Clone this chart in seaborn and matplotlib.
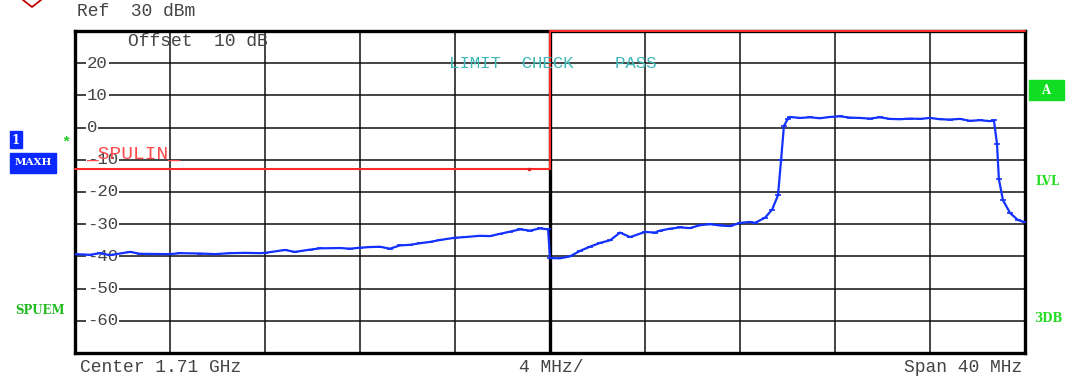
import matplotlib
matplotlib.use("Agg")
import matplotlib.pyplot as plt
import seaborn as sns
import pandas as pd
from matplotlib.lines import Line2D
from matplotlib.patches import Rectangle

# ---- data ----
freq_mhz = [1690.00, 1690.63, 1691.05, 1691.47, 1692.32, 1692.74, 1694.00, 1694.42,
            1695.26, 1695.89, 1696.53, 1697.16, 1697.79, 1698.00, 1698.84, 1699.26,
            1699.89, 1700.32, 1701.16, 1701.58, 1702.00, 1702.42, 1702.84, 1703.26,
            1703.68, 1704.11, 1704.53, 1704.95, 1705.37, 1706.00, 1706.42, 1707.05,
            1707.47, 1707.89, 1708.32, 1708.74, 1709.16, 1709.58, 1709.92, 1710.00,
            1710.42, 1710.84, 1711.26, 1711.68, 1712.11, 1712.53, 1712.95, 1713.37,
            1714.00, 1714.42, 1714.63, 1715.05, 1715.47, 1715.89, 1716.32, 1716.74,
            1717.16, 1717.58, 1718.00, 1718.42, 1718.63, 1719.05, 1719.35, 1719.60,
            1719.73, 1719.85, 1720.02, 1720.11, 1720.53, 1720.95, 1721.37, 1721.79,
            1722.21, 1722.63, 1723.05, 1723.47, 1723.89, 1724.32, 1724.74, 1725.16,
            1725.58, 1726.00, 1726.42, 1726.84, 1727.26, 1727.68, 1728.11, 1728.53,
            1728.69, 1728.82, 1728.90, 1729.07, 1729.37, 1729.70, 1730.00]
level_dbm = [-39.3, -39.5, -39.0, -39.6, -38.6, -39.2, -39.3, -39.0,
             -39.1, -39.3, -39.0, -38.9, -39.0, -38.9, -38.0, -38.6,
             -37.9, -37.5, -37.4, -37.6, -37.3, -37.1, -37.0, -37.6,
             -36.6, -36.4, -35.9, -35.5, -34.9, -34.2, -34.0, -33.6,
             -33.7, -33.0, -32.3, -31.6, -32.0, -31.3, -31.6, -40.5,
             -40.6, -40.0, -38.3, -37.0, -35.8, -35.0, -32.6, -34.0,
             -32.4, -32.6, -32.0, -31.4, -31.0, -31.2, -30.3, -30.0,
             -30.4, -30.6, -29.6, -29.3, -29.6, -28.0, -25.5, -21.0,
             -10.0, 0.5, 2.8, 3.3, 3.0, 3.2, 2.9, 3.3,
             3.5, 3.1, 3.0, 2.8, 3.2, 2.7, 2.6, 2.8,
             2.7, 3.0, 2.6, 2.5, 2.7, 2.1, 2.3, 2.0,
             2.3, -5.0, -16.0, -22.5, -26.5, -28.7, -29.4]

limit_freq = [1690.0, 1710.0, 1710.0, 1730.0]
limit_level = [-13.0, -13.0, 30.0, 30.0]

ytick_values = [20, 10, 0, -10, -20, -30, -40, -50, -60]
xtick_values = [1690, 1694, 1698, 1702, 1706, 1710, 1714, 1718, 1722, 1726, 1730]

center_label = "Center 1.71 GHz"
div_label = "4 MHz/"
span_label = "Span 40 MHz"
ref_label = "Ref  30 dBm"
offset_label = "Offset  10 dB"
limit_label = "LIMIT  CHECK    PASS"
limit_name = "_SPULIN_"

# ---- figure ----
sns.set_style("white")
plt.rcParams['font.family'] = ['Liberation Mono', 'DejaVu Sans Mono']

W, H = 1068, 378
fig = plt.figure(figsize=(W / 100, H / 100), dpi=100)
ax = fig.add_axes([75 / W, 1 - 353 / H, 950 / W, 322 / H])

trace_df = pd.DataFrame({"f": freq_mhz, "lvl": level_dbm})
limit_df = pd.DataFrame({"f": limit_freq, "lvl": limit_level})

ax.set_xlim(1690, 1730)
ax.set_ylim(-70, 30)
ax.set_xticks(xtick_values)
ax.set_yticks([30] + ytick_values + [-70])
ax.tick_params(left=False, bottom=False, labelleft=False, labelbottom=False)
ax.grid(True, color="#111111", linewidth=1.1, zorder=0)
ax.axvline(1710, color="black", linewidth=2.4, zorder=1)
for s in ax.spines.values():
    s.set_linewidth(2.4)
    s.set_color("black")

sns.lineplot(data=limit_df, x="f", y="lvl", ax=ax, color="#ff2a2a", linewidth=1.5,
             sort=False, estimator=None, zorder=3, clip_on=False)
ax.plot([1709.1], [-13.0], marker="s", markersize=2, color="#e02020", zorder=3)
sns.lineplot(data=trace_df, x="f", y="lvl", ax=ax, color="#1432ff", linewidth=1.6,
             sort=False, estimator=None, zorder=4, marker="_", markersize=4,
             markeredgewidth=1.2, markeredgecolor="#1432ff")
ax.set_xlabel("")
ax.set_ylabel("")

# inner y labels with white background
for v in ytick_values:
    ax.text(0.0126, v, str(v), transform=ax.get_yaxis_transform(), ha="left",
            va="center", fontsize=12.5, color="#444444", zorder=2,
            bbox=dict(facecolor="white", edgecolor="none", pad=0.8))

txt = dict(fontsize=13, color="#444444")
fig.text(77 / W, 1 - 12 / H, ref_label, ha="left", va="center", **txt)
fig.text(128 / W, 1 - 42 / H, offset_label, ha="left", va="center", **txt)
fig.text(80 / W, 1 - 368 / H, center_label, ha="left", va="center", **txt)
fig.text(551 / W, 1 - 368 / H, div_label, ha="center", va="center", **txt)
fig.text(1022 / W, 1 - 368 / H, span_label, ha="right", va="center", **txt)
fig.text(449 / W, 1 - 63 / H, limit_label, ha="left", va="center",
         fontsize=12.5, color="#40b8b8")
fig.text(86 / W, 1 - 154 / H, limit_name, ha="left", va="center",
         fontsize=14, color="#ff4a4a", zorder=5)

# side annotations
bold = dict(family="DejaVu Serif", fontweight="bold", fontsize=8.5)
fig.add_artist(Rectangle((10 / W, 1 - 148 / H), 12 / W, 17 / H, color="#0a28ff"))
fig.add_artist(Rectangle((10 / W, 1 - 173 / H), 46 / W, 20 / H, color="#0a28ff"))
fig.add_artist(Rectangle((1029 / W, 1 - 100 / H), 35 / W, 20 / H, color="#11dd22"))
fig.text(16 / W, 1 - 140 / H, "1", ha="center", va="center", color="white", **bold)
fig.text(33 / W, 1 - 163 / H, "MAXH", ha="center", va="center", color="white",
         family="DejaVu Serif", fontweight="bold", fontsize=7.5)
fig.text(66 / W, 1 - 142 / H, "*", ha="center", va="center", color="#22cc22",
         fontsize=11, fontweight="bold")
fig.text(40 / W, 1 - 311 / H, "SPUEM", ha="center", va="center", color="#22bb22", **bold)
fig.text(1046 / W, 1 - 90 / H, "A", ha="center", va="center", color="white", **bold)
fig.text(1048 / W, 1 - 182 / H, "LVL", ha="center", va="center", color="#22dd22", **bold)
fig.text(1048 / W, 1 - 318 / H, "3DB", ha="center", va="center", color="#22dd22", **bold)

# small red marker cut off at the top-left corner
fig.add_artist(Line2D([23 / W, 32 / W, 41 / W], [1.0, 1 - 7 / H, 1.0],
                      color="#c00000", linewidth=1.3))

fig.savefig("out.png", dpi=100)
